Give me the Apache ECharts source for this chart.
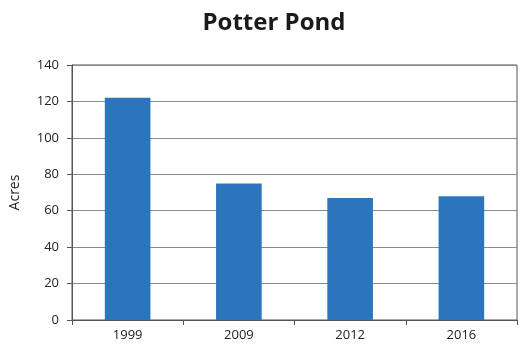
<!DOCTYPE html>
<html><head><meta charset="utf-8">
<script src="https://cdn.jsdelivr.net/npm/echarts@6/dist/echarts.min.js"></script>
<style>html,body{margin:0;padding:0;background:#fff}#c{width:522px;height:352px}</style>
</head><body><div id="c"></div>
<script>
var categories = ['1999', '2009', '2012', '2016'];
var acres = [122, 75, 67, 68];
var yTicks = [0, 20, 40, 60, 80, 100, 120, 140];

var chart = echarts.init(document.getElementById('c'), null, {renderer: 'canvas'});
chart.setOption({
  backgroundColor: '#ffffff',
  animation: false,
  title: {
    text: 'Potter Pond', left: 269, top: 6, textAlign: 'center',
    textStyle: {fontFamily: 'Open Sans', fontWeight: 'bold', fontSize: 24, color: '#1a1a1a'}
  },
  grid: {left: 70, right: 5, top: 65, bottom: 32, show: true, borderColor: '#555', borderWidth: 1},
  xAxis: {
    type: 'category', data: categories, boundaryGap: true,
    axisLine: {lineStyle: {color: '#555'}},
    axisTick: {show: true, length: 5, lineStyle: {color: '#555'}},
    axisLabel: {fontFamily: 'Open Sans', fontSize: 13, color: '#222', margin: 9}
  },
  yAxis: {
    type: 'value', min: yTicks[0], max: yTicks[yTicks.length - 1], interval: 20,
    name: 'Acres', nameLocation: 'middle', nameGap: 50, nameRotate: 90,
    nameTextStyle: {fontFamily: 'Open Sans', fontSize: 14, color: '#222'},
    axisLine: {show: true, lineStyle: {color: '#555'}},
    axisTick: {show: true, length: 5, lineStyle: {color: '#555'}},
    axisLabel: {fontFamily: 'Open Sans', fontSize: 13, color: '#222', margin: 13},
    splitLine: {lineStyle: {color: '#8a8a8a'}}
  },
  series: [{
    type: 'bar', data: acres, barWidth: '41%',
    itemStyle: {color: '#2b76bb'}
  }]
});
</script></body></html>
